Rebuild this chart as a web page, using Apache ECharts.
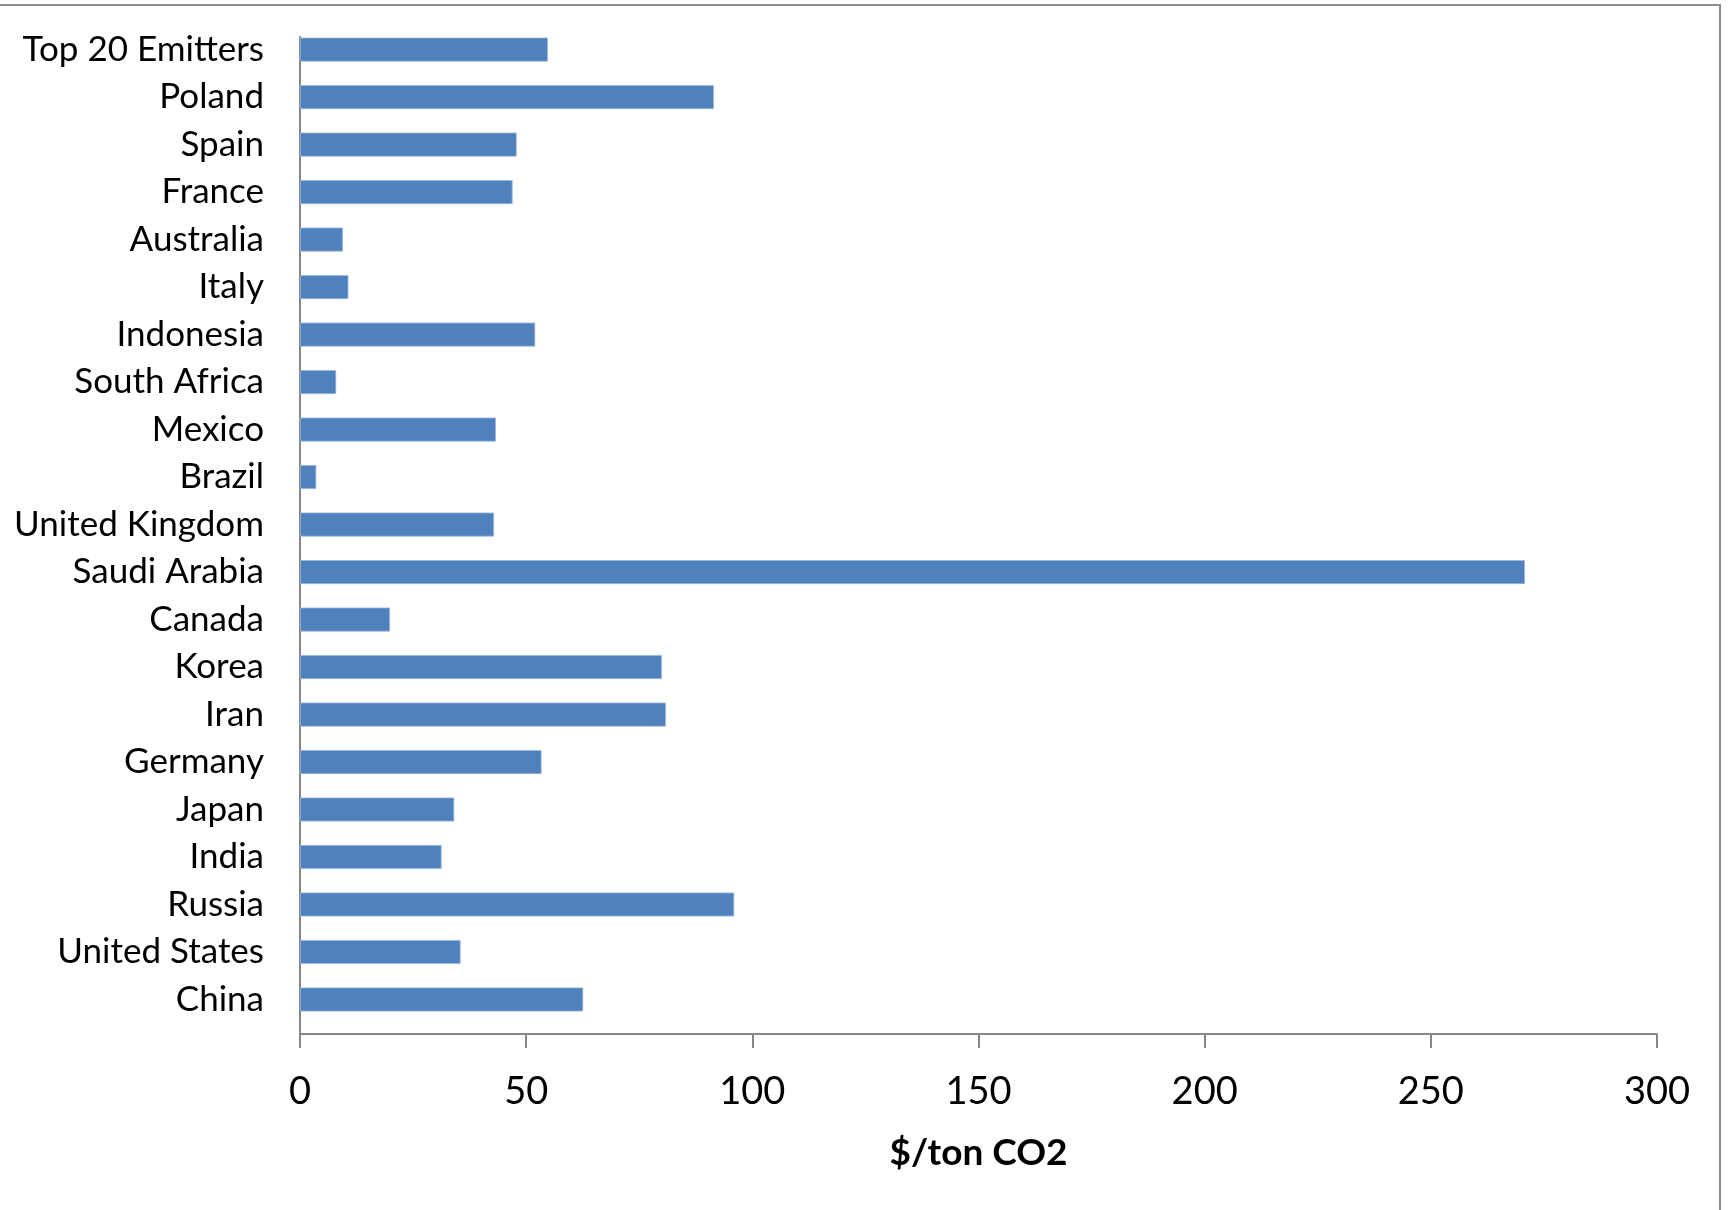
<!DOCTYPE html>
<html>
<head>
<meta charset="utf-8">
<title>Carbon price by emitter</title>
<script src="https://cdn.jsdelivr.net/npm/echarts@6/dist/echarts.min.js"></script>
<style>
  html, body { margin: 0; padding: 0; background: #ffffff; }
  #chart { width: 1729px; height: 1210px; }
</style>
</head>
<body>
<div id="chart"></div>
<script>
// Countries, listed top to bottom
const countries = [
  'Top 20 Emitters', 'Poland', 'Spain', 'France', 'Australia', 'Italy',
  'Indonesia', 'South Africa', 'Mexico', 'Brazil', 'United Kingdom',
  'Saudi Arabia', 'Canada', 'Korea', 'Iran', 'Germany', 'Japan', 'India',
  'Russia', 'United States', 'China'
];

// Price in $/ton CO2 for each country above
const prices = [
  54.8, 91.5, 47.9, 47.0, 9.5, 10.7,
  52.0, 8.0, 43.3, 3.6, 42.9,
  270.8, 19.9, 80.0, 80.9, 53.4, 34.1, 31.3,
  96.0, 35.5, 62.6
];

// Value axis range and step
const axisMin = 0;
const axisMax = 300;
const axisStep = 50;
const axisTitle = '$/ton CO2';

const FONT = 'Lato, "Open Sans", sans-serif';
const AXIS_GREY = '#868686';
const BAR_BLUE = '#4F81BD';

const chart = echarts.init(document.getElementById('chart'), null, { renderer: 'canvas' });

chart.setOption({
  animation: false,
  backgroundColor: '#ffffff',
  graphic: [{
    type: 'rect',
    silent: true,
    shape: { x: -10, y: 5, width: 1730, height: 1220 },
    style: { fill: 'none', stroke: '#8c8c8c', lineWidth: 2 }
  }],
  grid: [
    // frame grid: carries the visible value axis and the vertical axis line
    { left: 300, right: 72, top: 37, bottom: 176, containLabel: false },
    // bar grid: category bands
    { left: 300, right: 72, top: 25.85, bottom: 186.75, containLabel: false }
  ],
  xAxis: [
    {
      gridIndex: 0,
      type: 'value',
      min: axisMin,
      max: axisMax,
      interval: axisStep,
      name: axisTitle,
      nameLocation: 'middle',
      nameGap: 101,
      nameTextStyle: { fontFamily: FONT, fontSize: 37, fontWeight: 'bold', color: '#000' },
      axisLine: { show: true, lineStyle: { color: AXIS_GREY, width: 2 } },
      axisTick: { show: true, inside: false, length: 14, lineStyle: { color: AXIS_GREY, width: 2 } },
      axisLabel: { margin: 39, fontFamily: FONT, fontSize: 38, color: '#000' },
      splitLine: { show: false }
    },
    {
      gridIndex: 1,
      type: 'value',
      min: axisMin,
      max: axisMax,
      interval: axisStep,
      show: false
    }
  ],
  yAxis: [
    {
      gridIndex: 0,
      type: 'category',
      data: countries,
      inverse: true,
      axisLine: { show: true, lineStyle: { color: AXIS_GREY, width: 2 } },
      axisTick: { show: false },
      axisLabel: { show: false },
      splitLine: { show: false }
    },
    {
      gridIndex: 1,
      type: 'category',
      data: countries,
      inverse: true,
      axisLine: { show: false },
      axisTick: { show: false },
      axisLabel: {
        margin: 36,
        fontFamily: FONT,
        fontSize: 35,
        color: '#000',
        align: 'right'
      },
      splitLine: { show: false }
    }
  ],
  series: [{
    type: 'bar',
    name: axisTitle,
    xAxisIndex: 1,
    yAxisIndex: 1,
    data: prices,
    barWidth: 24,
    itemStyle: { color: BAR_BLUE, borderColor: '#9db7d9', borderWidth: 0.8 }
  }]
});
</script>
</body>
</html>
